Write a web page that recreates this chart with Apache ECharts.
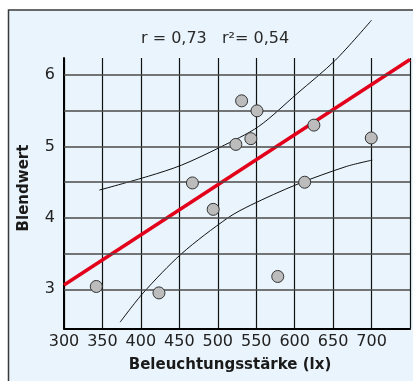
<!DOCTYPE html>
<html>
<head>
<meta charset="utf-8">
<script src="https://cdn.jsdelivr.net/npm/echarts@6/dist/echarts.min.js"></script>
<style>
  html, body { margin: 0; padding: 0; background: #ffffff; }
  #chart { width: 413px; height: 381px; }
</style>
</head>
<body>
<div id="chart"></div>
<script>
// Illuminance (lx) vs. glare rating
const illuminance = [342, 423.5, 467, 494, 523.5, 531, 543, 551, 578, 613, 625, 699.6];
const glareRating = [3.04, 2.95, 4.49, 4.12, 5.03, 5.64, 5.11, 5.50, 3.18, 4.50, 5.30, 5.12];

// Regression line end points
const regressionLine = [[300, 3.06], [750, 6.22]];

// Confidence band (upper and lower bound)
const upperBand = [[346, 4.39], [410, 4.585], [453, 4.74], [503, 4.99],
                   [553, 5.28], [603, 5.74], [653, 6.21], [700, 6.77]];
const lowerBand = [[373, 2.54], [403, 2.95], [453, 3.50], [513, 4.00], [543, 4.18],
                   [603, 4.47], [667, 4.72], [701, 4.81]];

// Axis ticks and grid values
const xTickLabels = ['300', '350', '400', '450', '500', '550', '600', '650', '700'];
const yTickLabels = [3, 4, 5, 6];
const yGridValues = [3, 3.5, 4, 4.5, 5, 5.5, 6];

const statsText = 'r = 0,73   r²= 0,54';
const xName = 'Beleuchtungsstärke (lx)';
const yName = 'Blendwert';

const chart = echarts.init(document.getElementById('chart'), null, { renderer: 'canvas' });

const font = 'DejaVu Sans';

chart.setOption({
  animation: false,
  backgroundColor: '#ffffff',
  graphic: [
    {
      type: 'rect', z: -10, silent: true,
      shape: { x: 8.5, y: 10, width: 430, height: 400 },
      style: { fill: '#e9f4fc', stroke: '#3a3a3a', lineWidth: 1.5 }
    },
    {
      type: 'text', z: 10, silent: true,
      left: 141, top: 31,
      style: { text: statsText, font: '16px "DejaVu Sans"', fill: '#2a2a2a' }
    },
    {
      type: 'text', z: 10, silent: true,
      x: 230, y: 365,
      style: { text: xName, font: 'bold 15px "DejaVu Sans"', fill: '#1a1a1a',
               align: 'center', verticalAlign: 'middle' }
    },
    {
      type: 'text', z: 10, silent: true,
      x: 24, y: 188, rotation: Math.PI / 2,
      style: { text: yName, font: 'bold 15px "DejaVu Sans"', fill: '#1a1a1a',
               align: 'center', verticalAlign: 'middle' }
    }
  ],
  grid: { left: 64, top: 58, width: 351, height: 270.6, containLabel: false },
  xAxis: {
    type: 'value', min: 300, max: 750, interval: 50,
    axisLine: { show: true, onZero: false, lineStyle: { color: '#000', width: 2 } },
    axisTick: { show: false },
    axisLabel: {
      margin: 5, fontFamily: font, fontSize: 16, color: '#222',
      formatter: v => (xTickLabels.indexOf(String(v)) >= 0 ? String(v) : '')
    },
    splitLine: { show: true, lineStyle: { color: '#111', width: 1.2 } }
  },
  yAxis: {
    type: 'value', min: 2.45, max: 6.24,
    axisLine: { show: true, onZero: false, lineStyle: { color: '#000', width: 2 } },
    axisTick: { show: false },
    axisLabel: {
      customValues: yTickLabels, margin: 9,
      fontFamily: font, fontSize: 16, color: '#222'
    },
    splitLine: { show: false }
  },
  series: [
    {
      // horizontal grid lines
      type: 'line', data: [], z: 1, silent: true,
      markLine: {
        silent: true, symbol: ['none', 'none'], label: { show: false },
        lineStyle: { type: 'solid', color: '#4a4a4a', width: 1.6 },
        emphasis: { disabled: true },
        data: yGridValues.map(v => ({ yAxis: v }))
      }
    },
    {
      type: 'line', data: upperBand, smooth: 0.3, clip: false,
      showSymbol: false, z: 3,
      lineStyle: { color: '#111', width: 1 }, silent: true
    },
    {
      type: 'line', data: lowerBand, smooth: 0.3, clip: false,
      showSymbol: false, z: 3,
      lineStyle: { color: '#111', width: 1 }, silent: true
    },
    {
      type: 'line', data: regressionLine, showSymbol: false, z: 4,
      lineStyle: { color: '#e3001b', width: 3.5 }, silent: true
    },
    {
      type: 'scatter', z: 5,
      data: illuminance.map((x, i) => [x, glareRating[i]]),
      symbol: 'circle', symbolSize: 12,
      itemStyle: { color: '#bcbcbc', borderColor: '#333', borderWidth: 1, opacity: 1 }
    }
  ]
});
</script>
</body>
</html>
